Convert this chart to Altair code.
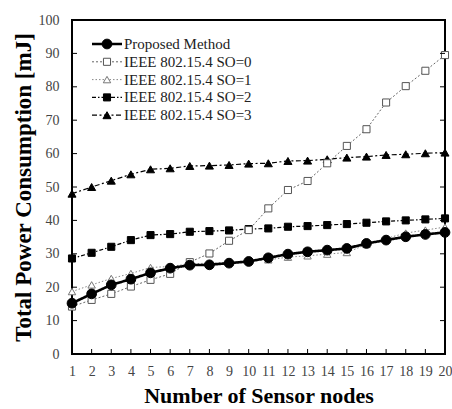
import altair as alt
import pandas as pd

nodes = list(range(1, 21))
proposed = [15.2, 18.0, 20.7, 22.4, 24.3, 25.7, 26.6, 26.7, 27.2, 27.7, 28.8, 29.9, 30.6, 31.1, 31.6, 33.1, 34.1, 35.1, 35.8, 36.4]
so0 = [14.2, 16.2, 18.0, 20.2, 22.2, 24.0, 27.5, 30.1, 33.9, 37.1, 43.6, 49.1, 51.8, 57.1, 62.3, 67.3, 75.3, 80.2, 84.8, 89.5]
so1 = [18.7, 20.7, 22.6, 24.1, 25.9, 26.2, 27.0, 27.2, 27.5, 28.0, 28.2, 29.0, 29.4, 29.9, 30.4, 32.8, 34.6, 36.2, 37.1, 38.0]
so2 = [28.6, 30.3, 32.1, 34.1, 35.6, 35.9, 36.6, 36.8, 37.0, 37.4, 37.6, 38.1, 38.3, 38.6, 38.9, 39.3, 39.7, 40.0, 40.3, 40.6]
so3 = [48.0, 50.0, 51.9, 53.8, 55.3, 55.6, 56.3, 56.4, 56.6, 57.0, 57.1, 57.8, 57.9, 58.3, 58.8, 59.1, 59.6, 59.8, 60.1, 60.3]

names = ["Proposed Method", "IEEE 802.15.4 SO=0", "IEEE 802.15.4 SO=1",
         "IEEE 802.15.4 SO=2", "IEEE 802.15.4 SO=3"]
series = [proposed, so0, so1, so2, so3]
y_ticks = list(range(0, 101, 10))

W, H = 373, 334
FONT = "Liberation Serif"

styles = {
    names[0]: dict(color="black", width=2.6, dash=[1, 0], shape="circle", size=95, fill="black", stroke="black", sw=1),
    names[1]: dict(color="#666", width=1.0, dash=[2, 2], shape="square", size=50, fill="white", stroke="#555", sw=1),
    names[2]: dict(color="#888", width=1.0, dash=[1.5, 2], shape="triangle-up", size=55, fill="white", stroke="#777", sw=1),
    names[3]: dict(color="black", width=1.2, dash=[4, 2, 1.5, 2], shape="square", size=50, fill="black", stroke="black", sw=1),
    names[4]: dict(color="black", width=1.2, dash=[5, 2.5, 2, 2.5], shape="triangle-up", size=65, fill="black", stroke="black", sw=1),
}

xs = alt.Scale(domain=[1, 20], nice=False, zero=False)
ys = alt.Scale(domain=[0, 100], nice=False)

x_axis = alt.Axis(values=nodes, tickSize=0, domain=False, grid=False,
                  labelFont=FONT, labelFontSize=14, labelColor="#444", labelPadding=10,
                  labelOverlap=False, labelBound=False, labelFlush=False,
                  title="Number of Sensor nodes", titleFont=FONT, titleFontSize=22,
                  titleFontWeight="bold", titleColor="black",
                  titleX=W / 2, titleY=41, titleBaseline="middle")
y_axis = alt.Axis(values=y_ticks, tickSize=0, domain=False, grid=False,
                  labelFont=FONT, labelFontSize=14, labelColor="#444", labelPadding=13,
                  labelOverlap=False, labelFlush=False,
                  title="Total Power Consumption [mJ]", titleFont=FONT, titleFontSize=23,
                  titleFontWeight="bold", titleColor="black",
                  titleX=-49, titleY=H / 2, titleAngle=270, titleAlign="center",
                  titleBaseline="middle")


def X():
    return alt.X("x:Q", scale=xs, axis=x_axis)


def Y():
    return alt.Y("y:Q", scale=ys, axis=y_axis)


layers = []
draw_order = [4, 3, 2, 1, 0]
for i in draw_order:
    nm = names[i]
    st = styles[nm]
    df = pd.DataFrame({"x": nodes, "y": series[i], "s": nm})
    line = alt.Chart(df).mark_line(color=st["color"], strokeWidth=st["width"],
                                   strokeDash=st["dash"]).encode(x=X(), y=Y())
    pts = alt.Chart(df).mark_point(shape=st["shape"], size=st["size"], filled=True,
                                   fill=st["fill"], stroke=st["stroke"],
                                   strokeWidth=st["sw"], opacity=1).encode(x=X(), y=Y())
    layers += [line, pts]

# inward ticks
yt = pd.DataFrame({"y": y_ticks})
xt = pd.DataFrame({"x": nodes})
layers.append(alt.Chart(yt).mark_rule(color="black", strokeWidth=1).encode(
    y=Y(), x=alt.value(0), x2=alt.value(5)))
layers.append(alt.Chart(yt).mark_rule(color="black", strokeWidth=1).encode(
    y=Y(), x=alt.value(W), x2=alt.value(W - 5)))
layers.append(alt.Chart(xt).mark_rule(color="black", strokeWidth=1).encode(
    x=X(), y=alt.value(H), y2=alt.value(H - 5)))

# manual legend
for i, nm in enumerate(names):
    st = styles[nm]
    ly = 24 + i * 17.8
    one = pd.DataFrame({"label": [nm]})
    layers.append(alt.Chart(one).mark_rule(color=st["color"], strokeWidth=st["width"],
                                           strokeDash=st["dash"]).encode(
        x=alt.value(20), x2=alt.value(50), y=alt.value(ly)))
    layers.append(alt.Chart(one).mark_point(shape=st["shape"], size=st["size"], filled=True,
                                            fill=st["fill"], stroke=st["stroke"],
                                            strokeWidth=st["sw"], opacity=1).encode(
        x=alt.value(35), y=alt.value(ly)))
    layers.append(alt.Chart(one).mark_text(font=FONT, fontSize=15, align="left",
                                           baseline="middle", color="#222").encode(
        x=alt.value(52), y=alt.value(ly), text="label:N"))

chart = alt.layer(*layers).properties(
    width=W, height=H,
    background="white",
    autosize=alt.AutoSizeParams(type="none"),
    padding={"left": 72, "top": 20, "right": 7, "bottom": 55},
).configure_view(stroke="black", strokeWidth=2)

chart.save("out.html", embed_options={"renderer": "svg", "actions": False})
